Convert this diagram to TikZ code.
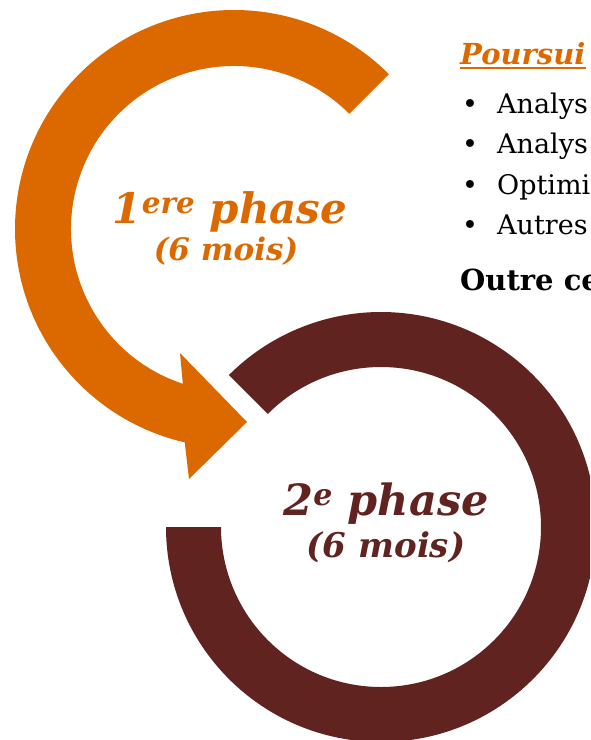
\documentclass[tikz,border=0pt]{standalone}
\usepackage{fontspec}
\setmainfont{DejaVu Serif}
\usepackage{xcolor}
\usepackage{tikz}
\usetikzlibrary{positioning, calc}
\definecolor{pOrange}{HTML}{DC6900}
\definecolor{pBrown}{HTML}{602320}
\definecolor{pInk}{HTML}{000000}

\begin{document}
\begin{tikzpicture}[x=1pt, y=1pt,
          phase/.style={font=\bfseries\itshape\fontsize{42}{46}\selectfont, anchor=base, inner sep=0pt},
          dur/.style={font=\bfseries\itshape\fontsize{31}{34}\selectfont, anchor=base, inner sep=0pt},
          txt/.style={font=\fontsize{27}{32}\selectfont, text=pInk, anchor=base west, inner sep=0pt}]
        \useasboundingbox (0,0) rectangle (590,-740);
        \clip (0,0) rectangle (590,-740);
        \coordinate (c1) at (234,-229);
        \coordinate (c2) at (381,-527);
        % second phase ring
        \fill[pBrown] ($(c2)+(180:215)$) arc[start angle=180, end angle=495, radius=215]
          -- ($(c2)+(135:160)$) arc[start angle=135, end angle=-180, radius=160] -- cycle;
        % first phase arrow
        \fill[pOrange] ($(c1)+(45:219)$) arc[start angle=45, end angle=257, radius=219]
          -- (189,-479) -- (247,-422) -- (180,-353)
          -- ($(c1)+(251.7:163)$) arc[start angle=251.7, end angle=45, radius=163] -- cycle;
        \node[phase, text=pOrange] (ph1) at (230,-223) {1\textsuperscript{ere} phase};
        \node[dur, text=pOrange] (ph1m) at (226,-260) {(6 mois)};
        \node[phase, font=\bfseries\itshape\fontsize{43}{47}\selectfont, text=pBrown] (ph2) at (386,-515) {2\textsuperscript{e} phase};
        \node[dur, font=\bfseries\itshape\fontsize{34}{37}\selectfont, text=pBrown] (ph2m) at (386,-557) {(6 mois)};
        % list on the right
        \node[txt, font=\bfseries\itshape\fontsize{29}{32}\selectfont, text=pOrange] (head) at (460,-64) {Poursui};
        \draw[pOrange, line width=2pt] ([yshift=-4pt]head.base west) -- ([yshift=-4pt]head.base east);
        \node[txt] (b1) at (462,-113) {\makebox[35pt][l]{\textbullet}Analys};
        \node[txt] (b2) at (462,-153) {\makebox[35pt][l]{\textbullet}Analys};
        \node[txt] (b3) at (462,-194) {\makebox[35pt][l]{\textbullet}Optimi};
        \node[txt] (b4) at (462,-234) {\makebox[35pt][l]{\textbullet}Autres};
        \node[txt, font=\bfseries\fontsize{29}{32}\selectfont] (outre) at (460,-290) {Outre ce};
\end{tikzpicture}
\end{document}
